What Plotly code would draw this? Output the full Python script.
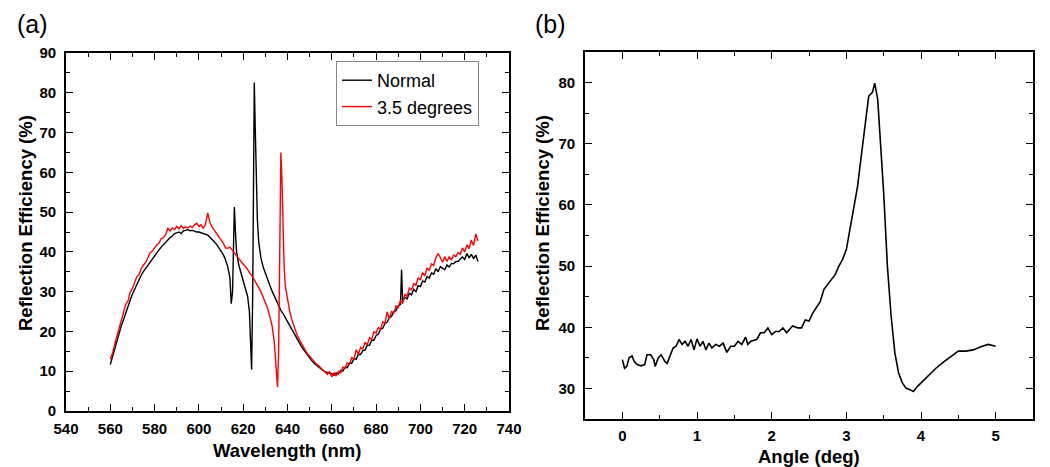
import plotly.graph_objects as go

# ---------------- Panel (a) data ----------------
normal_wl = [560, 561, 562, 563, 564, 565, 566, 567, 568, 569, 570, 571, 572, 573, 574, 575, 576, 577, 578, 579,
             580, 581, 582, 583, 584, 585, 586, 587, 588, 589, 590, 591, 592, 593, 594, 595, 596, 597, 598, 599,
             600, 601, 602, 603, 604, 605, 606, 607, 608, 609, 610, 611, 612, 613, 614, 614.6, 615.2, 615.6, 616.0, 616.5,
             617, 618, 619, 620, 621, 622, 622.8, 623.3, 623.8, 624.3, 624.7, 625.0, 625.4, 625.9, 626.4,
             627, 628, 629, 630, 631, 632, 633, 634, 635, 636, 637, 638, 639, 640, 641, 642, 643, 644, 645, 646,
             647, 648, 649, 650, 651, 652, 653, 654, 655, 656, 657, 658, 659,
             660, 661, 662, 663, 664, 665, 666, 667, 668, 669, 670, 671, 672, 673, 674, 675, 676, 677, 678, 679,
             680, 681, 682, 683, 684, 685, 686, 687, 688, 689, 690, 691, 691.5,
             692, 693, 694, 695, 696, 697, 698, 699, 700, 701, 702, 703, 704, 705, 706, 707, 708, 709, 710, 711,
             712, 713, 714, 715, 716, 717, 718, 719, 720, 721, 722, 723, 724, 725, 726]
normal_val = [11.7, 13.8, 15.6, 17.9, 19.6, 21.5, 23.0, 24.8, 26.2, 27.9, 29.4, 30.6, 32.0, 33.0, 34.2, 35.1, 35.9, 36.8, 37.6, 38.3,
              39.0, 39.7, 40.5, 41.2, 41.8, 42.5, 43.0, 43.6, 44.0, 44.6, 44.8, 45.0, 44.6, 45.3, 45.4, 45.6, 45.3, 45.4, 45.2, 45.0,
              45.0, 44.8, 44.6, 44.3, 44.2, 43.7, 43.2, 42.5, 41.9, 41.1, 40.3, 39.3, 38.0, 36.3, 33.5, 27.0, 30.0, 42.0, 51.3, 45.0,
              40.0, 36.7, 34.8, 33.2, 31.3, 28.8, 25.0, 19.0, 10.4, 30.0, 60.0, 82.6, 72.0, 58.0, 48.0,
              42.5, 38.5, 36.2, 34.5, 33.0, 31.6, 30.2, 29.0, 27.6, 26.4, 25.3, 24.5, 23.5, 22.4, 21.4, 20.3, 19.2, 18.3, 17.4, 16.5,
              15.6, 14.8, 14.0, 13.3, 12.6, 12.0, 11.5, 11.0, 10.6, 10.2, 9.9, 9.6, 9.5,
              9.4, 9.0, 9.6, 9.3, 10.2, 10.0, 11.0, 10.9, 12.0, 12.0, 13.2, 13.0, 14.2, 14.2, 15.2, 15.3, 16.5, 16.5, 17.8, 17.8,
              19.0, 19.3, 20.5, 20.8, 22.0, 22.3, 23.5, 23.8, 25.0, 25.2, 26.5, 26.8, 35.5,
              27.6, 28.6, 28.2, 29.6, 29.2, 30.6, 30.0, 31.5, 31.3, 32.7, 32.4, 33.8, 33.4, 34.7, 34.4, 35.8, 35.0, 36.3, 35.8, 35.5,
              36.7, 36.2, 37.1, 37.0, 37.6, 37.6, 38.2, 38.7, 38.1, 39.6, 38.5, 39.4, 38.3, 39.2, 37.6]

tilt_wl = [560, 561, 562, 563, 564, 565, 566, 567, 568, 569, 570, 571, 572, 573, 574, 575, 576, 577, 578, 579,
           580, 581, 582, 583, 584, 585, 586, 587, 588, 589, 590, 591, 592, 593, 594, 595, 596, 597, 598, 599,
           600, 601, 602, 603, 604, 605, 606, 607, 608, 609, 610, 611, 612, 613, 614, 615, 616, 617, 618, 619,
           620, 621, 622, 623, 624, 625, 626, 627, 628, 629, 630, 631, 632, 633, 634, 634.8, 635.5, 636.0, 636.5, 637.0,
           637.5, 638.0, 638.5, 639, 640, 641, 642, 643, 644, 645, 646, 647, 648, 649, 650, 651, 652, 653, 654,
           655, 656, 657, 658, 659, 660, 661, 662, 663, 664, 665, 666, 667, 668, 669, 670, 671, 672, 673, 674,
           675, 676, 677, 678, 679, 680, 681, 682, 683, 684, 685, 686, 687, 688, 689, 690, 691, 692, 693, 694,
           695, 696, 697, 698, 699, 700, 701, 702, 703, 704, 705, 706, 707, 708, 709, 710, 711, 712, 713, 714,
           715, 716, 717, 718, 719, 720, 721, 722, 723, 724, 725, 726]
tilt_val = [13.0, 14.5, 16.8, 18.5, 20.8, 22.8, 24.5, 26.8, 27.7, 29.9, 30.8, 32.2, 33.8, 34.3, 35.9, 36.7, 37.4, 38.6, 39.8, 40.2,
            41.0, 41.8, 42.2, 43.3, 43.6, 44.4, 45.9, 45.3, 46.0, 45.6, 46.4, 45.8, 46.6, 45.9, 46.3, 46.0, 46.5, 46.1, 46.8, 47.2,
            46.4, 46.8, 45.9, 47.0, 49.8, 47.3, 46.2, 45.4, 44.6, 44.0, 43.3, 42.2, 41.0, 40.9, 41.2, 40.4, 39.8, 38.9, 38.3, 37.6,
            37.0, 36.3, 35.6, 34.6, 34.0, 33.0, 32.0, 31.0, 30.0, 28.6, 27.4, 25.9, 23.8, 21.5, 17.5, 12.0, 6.0, 15.0, 40.0, 65.0,
            58.0, 44.0, 36.0, 31.5, 27.6, 25.0, 22.9, 21.0, 19.6, 18.3, 17.2, 16.0, 15.3, 14.4, 13.7, 13.2, 12.3, 11.8, 11.4,
            10.9, 10.2, 9.8, 9.2, 9.9, 8.6, 9.6, 8.8, 10.0, 9.6, 11.0, 10.8, 12.1, 11.8, 13.4, 13.0, 15.4, 14.2, 16.0, 15.6,
            17.2, 16.6, 18.4, 17.9, 19.9, 19.6, 21.0, 20.6, 22.4, 22.0, 24.9, 23.2, 25.0, 24.6, 26.4, 26.0, 27.8, 27.0, 29.4, 28.8,
            30.9, 30.4, 32.0, 31.6, 33.5, 32.9, 34.8, 34.0, 35.9, 35.4, 37.0, 36.6, 38.6, 39.6, 38.6, 37.4, 38.8, 37.6, 38.8, 38.0,
            39.2, 38.8, 39.8, 39.4, 41.0, 40.0, 41.8, 40.8, 43.0, 41.6, 44.5, 42.8]

# ---------------- Panel (b) data ----------------
angle = [0.00, 0.03, 0.06, 0.09, 0.13, 0.16, 0.20, 0.25, 0.30, 0.33, 0.38, 0.42, 0.44, 0.48, 0.52, 0.57, 0.60, 0.64, 0.68, 0.72,
         0.76, 0.80, 0.84, 0.88, 0.92, 0.96, 1.00, 1.04, 1.08, 1.12, 1.16, 1.20, 1.25, 1.30, 1.35, 1.40, 1.45, 1.50, 1.55, 1.60,
         1.65, 1.68, 1.72, 1.80, 1.85, 1.90, 1.95, 2.00, 2.05, 2.10, 2.15, 2.20, 2.28, 2.35, 2.40, 2.45, 2.50, 2.55, 2.60, 2.65,
         2.70, 2.75, 2.80, 2.85, 2.90, 2.95, 3.00, 3.05, 3.10, 3.15, 3.20, 3.25, 3.30, 3.35, 3.38, 3.42, 3.45, 3.50, 3.55, 3.60,
         3.65, 3.70, 3.75, 3.80, 3.85, 3.90, 3.95, 4.00, 4.10, 4.20, 4.30, 4.40, 4.50, 4.60, 4.70, 4.80, 4.90, 5.00]
refl = [34.7, 33.3, 33.6, 35.0, 35.3, 34.4, 33.9, 33.7, 33.9, 35.5, 35.5, 34.7, 33.6, 35.0, 35.5, 34.4, 34.1, 35.5, 36.6, 36.9,
        38.0, 37.2, 37.7, 36.9, 38.0, 36.3, 38.1, 36.9, 37.7, 36.3, 37.4, 36.6, 37.2, 36.9, 37.4, 35.9, 36.9, 36.9, 37.7, 37.2,
        38.4, 37.2, 37.7, 38.0, 39.1, 39.1, 39.9, 38.8, 39.3, 39.3, 39.9, 39.1, 40.2, 39.9, 39.9, 41.2, 41.0, 42.3, 43.2, 44.2,
        46.2, 47.0, 47.8, 48.6, 50.0, 51.1, 52.7, 56.0, 59.3, 63.0, 68.0, 73.4, 77.8, 78.4, 79.9, 77.3, 71.8, 62.0, 50.0, 41.8,
        35.8, 32.5, 30.9, 30.05, 29.8, 29.5, 30.3, 30.9, 32.0, 33.3, 34.3, 35.2, 36.1, 36.1, 36.3, 36.8, 37.2, 36.9]

FONT = "Arial, Liberation Sans, sans-serif"

# The page body adds an 8 px offset; the figure is sized so that it fills the 1050x467 window.
OFF = 8
W, H = 1050 - OFF, 467 - OFF


def px(x):
    return (x - OFF) / W


def py(y):
    return 1 - (y - OFF) / H


fig = go.Figure()
fig.add_trace(go.Scatter(x=normal_wl, y=normal_val, mode="lines", name="Normal",
                         line=dict(color="black", width=1.4), xaxis="x", yaxis="y"))
fig.add_trace(go.Scatter(x=tilt_wl, y=tilt_val, mode="lines", name="3.5 degrees",
                         line=dict(color="#ff0000", width=1.4), xaxis="x", yaxis="y"))
fig.add_trace(go.Scatter(x=angle, y=refl, mode="lines", name="angle", showlegend=False,
                         line=dict(color="black", width=1.6), xaxis="x2", yaxis="y2"))


def ax(rng, dtick, mdtick, domain, anchor, standoff):
    return dict(range=rng, domain=domain, anchor=anchor, dtick=dtick, automargin=False,
                showline=True, linecolor="black", linewidth=1.8, mirror="allticks",
                ticks="inside", ticklen=7, tickwidth=1.4, tickcolor="black", ticklabelstandoff=standoff,
                minor=dict(ticks="inside", ticklen=4, tickwidth=1.2, tickcolor="black", dtick=mdtick),
                showgrid=False, zeroline=False,
                tickfont=dict(family=FONT, size=15, color="black", weight="bold"))


def title(text, x, y, angle=0):
    return dict(text=text, x=px(x), y=py(y), xref="paper", yref="paper",
                xanchor="center", yanchor="middle", showarrow=False, textangle=angle,
                font=dict(family=FONT, size=18.5, color="black", weight="bold"))


fig.update_layout(
    width=W, height=H,
    margin=dict(l=0, r=0, t=0, b=0),
    paper_bgcolor="white", plot_bgcolor="white",
    xaxis=ax([540, 740], 20, 10, [px(66), px(509)], "y", 3),
    yaxis=ax([0, 90], 10, 5, [py(411), py(53)], "x", 5),
    xaxis2=ax([-0.5, 5.5], 1, 0.5, [px(585), px(1033)], "y2", 2),
    yaxis2=ax([25, 85], 10, 5, [py(419), py(52)], "x2", 5),
    legend=dict(x=px(336), y=py(61), xanchor="left", yanchor="top",
                bgcolor="white", bordercolor="#888888", borderwidth=1,
                font=dict(family=FONT, size=18, color="black"),
                tracegroupgap=0, itemwidth=30),
    showlegend=True,
    annotations=[
        dict(text="(a)", x=px(15), y=1.0, xref="paper", yref="paper",
             xanchor="left", yanchor="top", showarrow=False,
             font=dict(family=FONT, size=25, color="black")),
        dict(text="(b)", x=px(533), y=1.0, xref="paper", yref="paper",
             xanchor="left", yanchor="top", showarrow=False,
             font=dict(family=FONT, size=25, color="black")),
        title("Wavelength (nm)", 287, 450),
        title("Reflection Efficiency (%)", 26, 223, -90),
        title("Angle (deg)", 809, 456),
        title("Reflection Efficiency (%)", 543, 223, -90),
    ],
)

fig.write_html("out.html")
